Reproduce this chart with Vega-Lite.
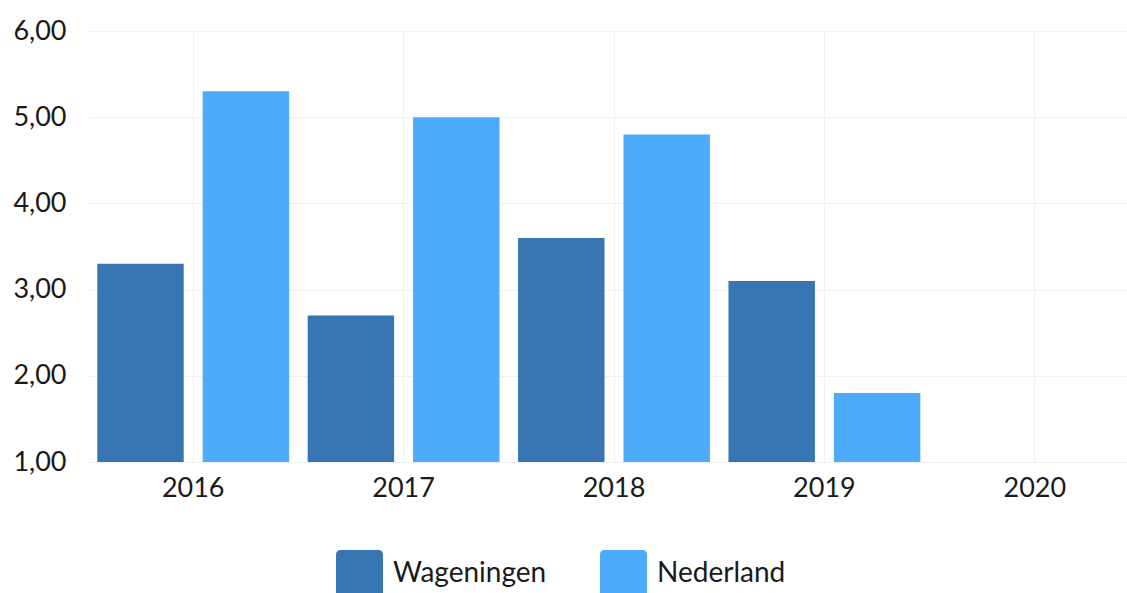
{
  "$schema": "https://vega.github.io/schema/vega-lite/v6.json",
  "autosize": {"type": "none"},
  "padding": {"left": 88, "top": 31, "right": 0, "bottom": 131},
  "width": 1039,
  "height": 431,
  "background": "white",
  "config": {
    "view": {"stroke": null},
    "font": "Lato",
    "axis": {"gridColor": "#f1f1f1", "gridWidth": 1, "domain": false, "ticks": false, "labelColor": "#1a1a1a", "labelFont": "Lato"},
    "legend": {"labelFont": "Lato"}
  },
  "data": {
    "values": [
      {"jaar": "2016", "plaats": "Wageningen", "waarde": 3.3},
      {"jaar": "2016", "plaats": "Nederland", "waarde": 5.3},
      {"jaar": "2017", "plaats": "Wageningen", "waarde": 2.7},
      {"jaar": "2017", "plaats": "Nederland", "waarde": 5.0},
      {"jaar": "2018", "plaats": "Wageningen", "waarde": 3.6},
      {"jaar": "2018", "plaats": "Nederland", "waarde": 4.8},
      {"jaar": "2019", "plaats": "Wageningen", "waarde": 3.1},
      {"jaar": "2019", "plaats": "Nederland", "waarde": 1.8}
    ]
  },
  "mark": {"type": "bar"},
  "encoding": {
    "x": {
      "field": "jaar",
      "type": "nominal",
      "scale": {"domain": ["2016", "2017", "2018", "2019", "2020"], "range": [0, 1052], "paddingInner": 0.088, "paddingOuter": 0.044},
      "axis": {"title": null, "labelAngle": 0, "labelFontSize": 27, "labelPadding": 13, "grid": true}
    },
    "xOffset": {
      "field": "plaats",
      "type": "nominal",
      "sort": ["Wageningen", "Nederland"],
      "scale": {"paddingInner": 0.18, "paddingOuter": 0}
    },
    "y": {
      "field": "waarde",
      "type": "quantitative",
      "scale": {"domain": [1, 6], "nice": false, "zero": false},
      "axis": {"title": null, "values": [1, 2, 3, 4, 5, 6], "labelFontSize": 27, "labelPadding": 22, "labelExpr": "replace(format(datum.value, '.2f'), '.', ',')"}
    },
    "y2": {"datum": 1},
    "color": {
      "field": "plaats",
      "type": "nominal",
      "scale": {"domain": ["Wageningen", "Nederland"], "range": ["#3776b3", "#4dabfe"]},
      "legend": {
        "title": null,
        "orient": "none",
        "direction": "horizontal",
        "legendX": 248,
        "legendY": 519,
        "symbolType": "M -1 -0.8 Q -1 -1 -0.8 -1 L 0.8 -1 Q 1 -1 1 -0.8 L 1 0.8 Q 1 1 0.8 1 L -0.8 1 Q -1 1 -1 0.8 Z",
        "symbolSize": 2209,
        "symbolStrokeWidth": 0,
        "symbolOpacity": 1,
        "labelFontSize": 28,
        "labelColor": "#1a1a1a",
        "labelOffset": 10,
        "columnPadding": 53
      }
    }
  }
}
